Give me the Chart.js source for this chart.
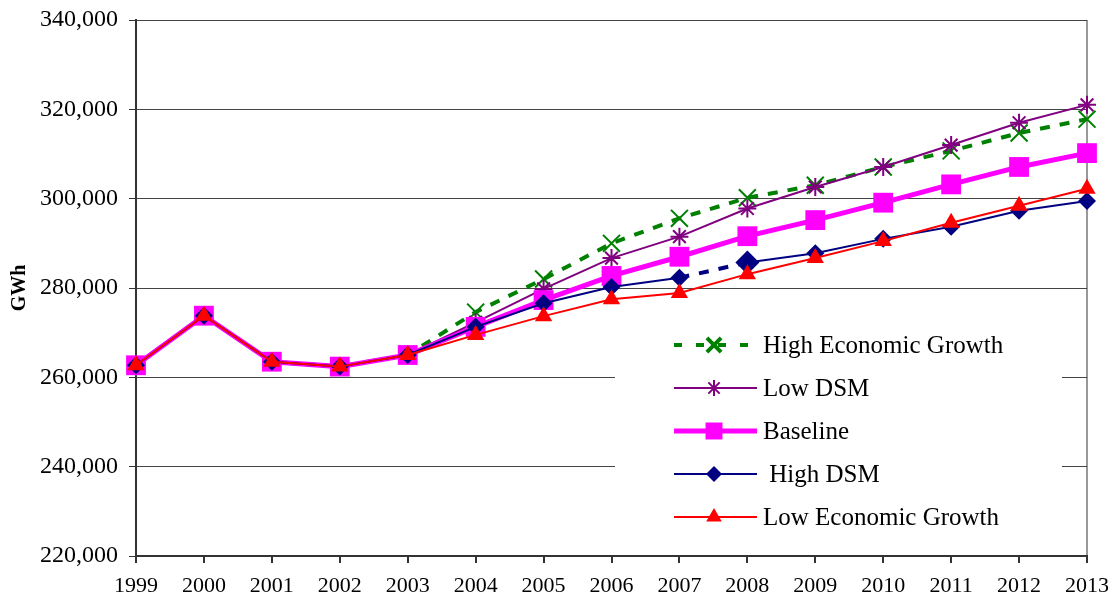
<!DOCTYPE html>
<html>
<head>
<meta charset="utf-8">
<script src="https://cdn.jsdelivr.net/npm/chart.js@4/dist/chart.umd.min.js"></script>
<style>
  body { margin: 0; background: #fff; }
  #wrap { width: 1112px; height: 600px; }
</style>
</head>
<body>
<div id="wrap"><canvas id="demandChart" width="1112" height="600"></canvas></div>
<script>
const years = ['1999', '2000', '2001', '2002', '2003', '2004', '2005', '2006', '2007', '2008', '2009', '2010', '2011', '2012', '2013'];

const highEconomicGrowth = [262700, 273800, 263500, 262400, 265000, 274600, 282000, 290000, 295600, 300200, 303000, 307100, 310700, 314700, 317800];
const lowDSM = [262700, 273800, 263500, 262400, 265000, 272300, 279800, 286700, 291500, 297800, 302600, 307100, 312000, 317000, 321000];
const baseline = [262700, 273800, 263500, 262400, 265000, 271300, 277300, 282700, 287000, 291600, 295200, 299100, 303200, 307100, 310200];
const highDSM = [262700, 273800, 263500, 262400, 265000, 271300, 276600, 280200, 282300, 285700, 287800, 291000, 293700, 297300, 299500];
const lowEconomicGrowth = [262700, 273800, 263500, 262400, 265000, 269500, 273700, 277500, 278900, 283100, 286700, 290500, 294600, 298400, 302200];

const yTicks = [220000, 240000, 260000, 280000, 300000, 320000, 340000];

const SERIF = '"Liberation Serif", "Times New Roman", serif';

// legend drawn inside the plot, over a white box (like the original)
const boxLegend = {
  id: 'boxLegend',
  afterDatasetsDraw(chart) {
    const ctx = chart.ctx;
    ctx.save();
    ctx.fillStyle = '#fff';
    ctx.fillRect(615, 322, 447, 226);
    chart.data.datasets.forEach((ds, i) => {
      const y = 345 + i * 43;
      ctx.strokeStyle = ds.borderColor;
      ctx.lineWidth = ds.borderWidth;
      ctx.setLineDash(ds.legendDash || []);
      ctx.beginPath();
      ctx.moveTo(674, y);
      ctx.lineTo(757, y);
      ctx.stroke();
      ctx.setLineDash([]);
      ctx.fillStyle = ds.pointBackgroundColor;
      ctx.strokeStyle = ds.pointBorderColor;
      Chart.helpers.drawPoint(ctx, {
        pointStyle: ds.pointStyle,
        radius: ds.legendRadius,
        rotation: 0,
        borderWidth: ds.pointBorderWidth
      }, 714, y);
      ctx.fillStyle = '#000';
      ctx.font = '25px ' + SERIF;
      ctx.textBaseline = 'middle';
      ctx.fillText(ds.label, 763, y + 1);
    });
    ctx.restore();
  }
};

const ctx = document.getElementById('demandChart').getContext('2d');

new Chart(ctx, {
  type: 'line',
  data: {
    labels: years,
    datasets: [
      {
        label: 'High Economic Growth',
        data: highEconomicGrowth,
        borderColor: '#008000',
        borderWidth: 4,
        borderDash: [10, 10],
        legendDash: [8, 14],
        pointStyle: 'crossRot',
        pointRadius: 12,
        legendRadius: 10,
        pointBorderWidth: 2,
        pointBorderColor: '#008000',
        pointBackgroundColor: '#008000',
        order: 5
      },
      {
        label: 'Low DSM',
        data: lowDSM,
        borderColor: '#800080',
        borderWidth: 2,
        pointStyle: 'star',
        pointRadius: 9,
        legendRadius: 8,
        pointBorderWidth: 2,
        pointBorderColor: '#800080',
        pointBackgroundColor: '#800080',
        order: 4
      },
      {
        label: 'Baseline',
        data: baseline,
        borderColor: '#FF00FF',
        borderWidth: 5,
        pointStyle: 'rect',
        pointRadius: 14,
        legendRadius: 12,
        pointBorderWidth: 0,
        pointBorderColor: '#FF00FF',
        pointBackgroundColor: '#FF00FF',
        order: 3
      },
      {
        label: ' High DSM',
        data: highDSM,
        borderColor: '#000080',
        borderWidth: 2,
        segment: {
          borderDash: c => (c.p0DataIndex === 8 ? [10, 10] : undefined),
          borderWidth: c => (c.p0DataIndex === 8 ? 4 : undefined)
        },
        pointStyle: 'rectRot',
        pointRadius: [9, 9, 9, 9, 9, 9, 9, 9, 9, 12, 9, 9, 9, 9, 9],
        legendRadius: 8,
        pointBorderWidth: 0,
        pointBorderColor: '#000080',
        pointBackgroundColor: '#000080',
        order: 2
      },
      {
        label: 'Low Economic Growth',
        data: lowEconomicGrowth,
        borderColor: '#FF0000',
        borderWidth: 2,
        pointStyle: 'triangle',
        pointRadius: 10,
        legendRadius: 9,
        pointBorderWidth: 0,
        pointBorderColor: '#FF0000',
        pointBackgroundColor: '#FF0000',
        order: 1
      }
    ]
  },
  options: {
    responsive: false,
    animation: false,
    layout: { padding: { top: 20, right: 25, left: 0, bottom: 0 } },
    plugins: {
      legend: { display: false },
      tooltip: { enabled: false }
    },
    elements: { line: { tension: 0 } },
    scales: {
      x: {
        type: 'category',
        offset: false,
        afterFit(scale) {
          scale.height = 44;
          scale.paddingLeft = 0;
          scale.paddingRight = 0;
        },
        grid: {
          color: c => (c.index === years.length - 1 ? '#999' : 'rgba(0,0,0,0)'),
          lineWidth: 2,
          tickColor: '#333',
          tickLength: 7
        },
        border: { color: '#333', width: 2 },
        ticks: {
          color: '#000',
          padding: 10,
          maxRotation: 0,
          autoSkip: false,
          font: { family: SERIF, size: 22 }
        }
      },
      y: {
        min: yTicks[0],
        max: yTicks[yTicks.length - 1],
        afterFit(scale) {
          scale.width = 136;
          scale.paddingTop = 0;
          scale.paddingBottom = 0;
        },
        afterBuildTicks(scale) { scale.ticks = yTicks.map(v => ({ value: v })); },
        grid: {
          color: '#444',
          lineWidth: 1,
          tickColor: '#333',
          tickLength: 7
        },
        border: { color: '#333', width: 2 },
        title: {
          display: true,
          text: 'GWh',
          color: '#000',
          padding: { top: 8, bottom: 0 },
          font: { family: SERIF, size: 20, weight: 'bold' }
        },
        ticks: {
          color: '#000',
          padding: 11,
          font: { family: SERIF, size: 24 },
          callback: v => v.toLocaleString('en-US')
        }
      }
    }
  },
  plugins: [boxLegend]
});
</script>
</body>
</html>
